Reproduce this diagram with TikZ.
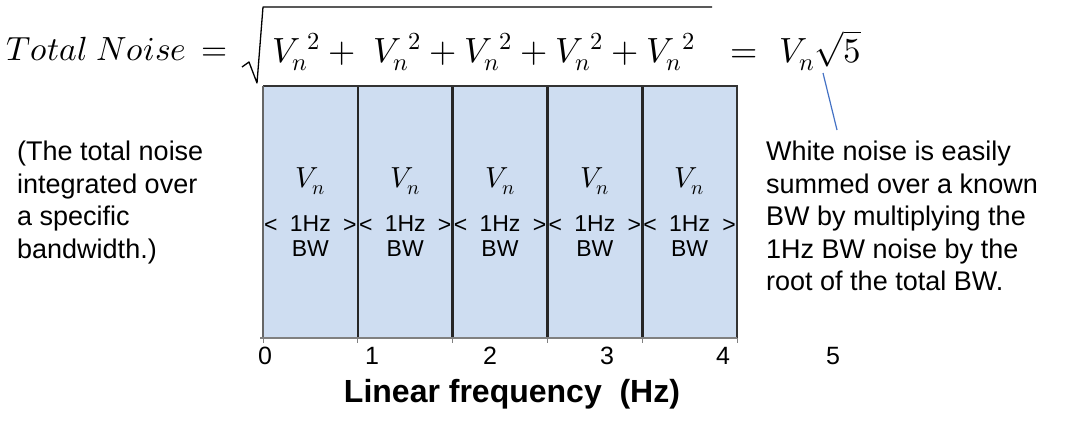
\documentclass[tikz,border=0pt]{standalone}
\usepackage{fontspec}
\usepackage{unicode-math}
\setmainfont{Liberation Sans}
\setmathfont{Latin Modern Math}
\usetikzlibrary{positioning}

\definecolor{cellblue}{RGB}{206,221,241}
\definecolor{axisgray}{RGB}{128,128,128}
\definecolor{calloutblue}{RGB}{68,114,196}

\begin{document}
\begin{tikzpicture}[
    x=1pt, y=-1pt,
    % styles for the repeated pieces
    formula/.style={inner sep=0pt, font=\fontsize{35}{40}\selectfont},
    cell/.style={rectangle, fill=cellblue, draw=none, minimum width=94.8pt, minimum height=252pt, inner sep=0pt, outer sep=0pt},
    vn/.style={inner sep=0pt, font=\fontsize{29}{32}\selectfont},
    bw/.style={inner sep=0pt, align=center, font=\fontsize{23}{25}\selectfont},
    edgemark/.style={inner sep=0pt, font=\fontsize{23}{25}\selectfont},
    note/.style={inner sep=0pt, align=left, font=\fontsize{27}{32.5}\selectfont},
    ticklabel/.style={inner sep=0pt, font=\fontsize{25}{28}\selectfont},
    divider/.style={line width=2.6pt, black!85},
    axis/.style={line width=1.6pt, axisgray},
    callout/.style={line width=1.2pt, calloutblue}
]
\useasboundingbox (0,0) rectangle (1083,432);

% --- Formula ---
\node[formula, anchor=base west, font=\fontsize{33.5}{40}\selectfont] (lhs) at (6,60) {$Total\ Noise\, =$};
\node[formula, anchor=base west] (sum) at (272,62) {$V_n{}^2 +\ V_n{}^2 + V_n{}^2 + V_n{}^2 + V_n{}^2$};
\node[formula, anchor=base west] (rhs) at (730,62) {$=\hspace{12pt} V_n\sqrt{5}$};
\draw[line width=1.3pt, line join=round] (242,67) -- (249,62) -- (257,83) -- (263,7) -- (712,7);

% --- Bandwidth cells ---
\foreach \i in {0,...,4}{
  \node[cell, anchor=north west] (c\i) at ({263+94.8*\i},86) {};
  \node[vn, below=101pt of c\i.north, anchor=base] (v\i) {$V_n$};
  \node[bw, below=21pt of v\i] (b\i) {1Hz\\BW};
  \node[edgemark, anchor=west] at ([xshift=1pt]c\i.west |- b\i.north) [yshift=-10pt] {<};
  \node[edgemark, anchor=east] at ([xshift=-1pt]c\i.east |- b\i.north) [yshift=-10pt] {>};
}
\foreach \i in {0,...,3}{
  \draw[divider] (c\i.north east) -- (c\i.south east);
}
\draw[line width=1.2pt, black!80] (c0.north west) -- (c4.north east) -- (c4.south east);
\draw[line width=1.2pt, black!60] (c0.north west) -- (c0.south west);

% --- Axis ---
\draw[axis] ([xshift=-3pt]c0.south west) -- (c4.south east);
\foreach \i in {0,...,4}{
  \draw[axis, line width=1pt] (c\i.south west) -- ++(0,5);
}
\draw[axis, line width=1pt] (c4.south east) -- ++(0,5);
\foreach \t/\x in {0/265,1/372,2/490,3/607,4/723,5/833}{
  \node[ticklabel] (t\t) at (\x,356) {\t};
}
\node[inner sep=0pt, font=\fontsize{32}{36}\selectfont\bfseries] (xlabel) at (512,394) {Linear frequency\ \ (Hz)};

% --- Side notes ---
\node[note, anchor=north west] (left) at (17,141) {(The total noise\\integrated over\\a specific\\bandwidth.)};
\node[note, anchor=north west] (note) at (766,141) {White noise is easily\\summed over a known\\BW by multiplying the\\1Hz BW noise by the\\root of the total BW.};
\coordinate (tip) at (823,73);
\draw[callout] (tip) -- ([xshift=71pt, yshift=11pt]note.north west);

\end{tikzpicture}
\end{document}
